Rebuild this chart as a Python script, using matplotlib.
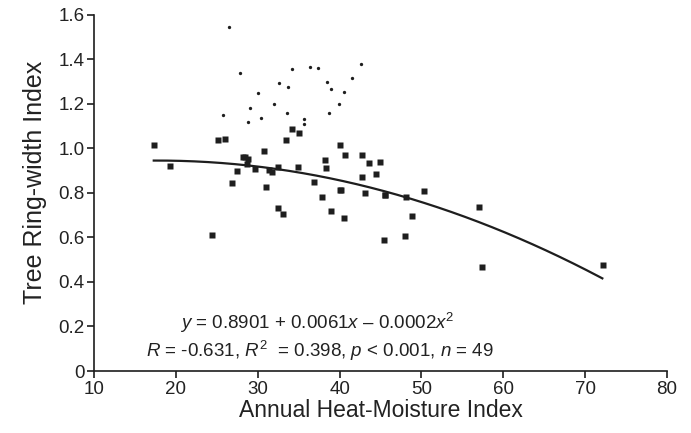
import numpy as np
import matplotlib
matplotlib.use('Agg')
import matplotlib.pyplot as plt

plt.rcParams['font.family'] = ['Liberation Sans', 'DejaVu Sans']
plt.rcParams['mathtext.fontset'] = 'custom'
plt.rcParams['mathtext.rm'] = 'Liberation Sans'
plt.rcParams['mathtext.it'] = 'Liberation Sans:italic'

# 方块: 回归用的 49 个样点
sq_x = [17.3, 19.3, 24.45, 25.1, 26.0, 26.8, 27.43, 28.2, 28.85, 28.65, 28.5,
        29.67, 30.8, 31.0, 31.4, 31.8, 32.5, 32.5, 33.1, 33.45, 34.2, 35.0,
        34.9, 36.85, 37.9, 38.2, 38.4, 38.9, 40.1, 40.1, 40.2, 40.5, 40.66,
        42.74, 42.74, 43.15, 43.63, 44.5, 44.94, 45.4, 45.5, 45.6, 48.0,
        48.1, 48.9, 50.35, 57.07, 57.36, 72.14]
sq_y = [1.016, 0.919, 0.61, 1.038, 1.042, 0.843, 0.9, 0.96, 0.954, 0.93, 0.962,
        0.907, 0.987, 0.828, 0.901, 0.895, 0.918, 0.734, 0.707, 1.038, 1.085, 1.07,
        0.918, 0.847, 0.78, 0.946, 0.913, 0.718, 1.016, 0.813, 0.815, 0.689, 0.968,
        0.972, 0.87, 0.801, 0.932, 0.883, 0.939, 0.589, 0.792, 0.79, 0.605,
        0.782, 0.697, 0.808, 0.738, 0.467, 0.477]

# 小圆点
dot_x = [26.5, 27.8, 34.15, 36.35, 37.4, 42.6, 32.6, 33.7, 30.0, 38.5, 39.0,
         41.55, 40.5, 29.05, 32.0, 39.97, 25.7, 30.4, 33.6, 38.65, 28.8, 35.6, 35.7]
dot_y = [1.545, 1.338, 1.355, 1.367, 1.36, 1.38, 1.292, 1.275, 1.25, 1.296, 1.267,
         1.316, 1.253, 1.183, 1.2, 1.2, 1.15, 1.135, 1.16, 1.159, 1.12, 1.13, 1.108]

# 拟合曲线系数 (从图上曲线读出), 以及曲线范围
fit_coef = [-0.000179, 0.00635, 0.8887]
fit_range = [17.3, 72.1]

x_ticks = [10, 20, 30, 40, 50, 60, 70, 80]
y_ticks = [0, 0.2, 0.4, 0.6, 0.8, 1.0, 1.2, 1.4, 1.6]
y_tick_labels = ['0', '0.2', '0.4', '0.6', '0.8', '1.0', '1.2', '1.4', '1.6']

ink = '#1e1e1e'
txt = '#222222'

fig = plt.figure(figsize=(6.91, 4.33), dpi=100)
ax = fig.add_axes([94 / 691, 62 / 433, 573 / 691, 356.3 / 433])

ax.plot(dot_x, dot_y, 'o', ms=2.4, color=ink, mec='none', clip_on=False)
ax.plot(sq_x, sq_y, 's', ms=4.8, color=ink, mec='none', clip_on=False)

xf = np.linspace(fit_range[0], fit_range[1], 200)
ax.plot(xf, np.polyval(fit_coef, xf), color=ink, lw=1.6)

ax.set_xlim(10, 80)
ax.set_ylim(0, 1.6)
ax.set_xticks(x_ticks)
ax.set_yticks(y_ticks)
ax.set_yticklabels(y_tick_labels)

for s in ['top', 'right']:
    ax.spines[s].set_visible(False)
for s in ['left', 'bottom']:
    ax.spines[s].set_linewidth(1.2)
    ax.spines[s].set_color(ink)
ax.tick_params(direction='out', length=5, width=1.2, colors=ink,
               labelsize=13.5, labelcolor=txt, pad=2)

ax.set_xlabel('Annual Heat-Moisture Index', fontsize=16.5, color=txt, labelpad=1)
ax.set_ylabel('Tree Ring-width Index', fontsize=18, color=txt)
ax.yaxis.set_label_coords(-0.082, 0.53)

ax.text(20.5, 0.216, r'$y$ = 0.8901 + 0.0061$x$ – 0.0002$x^2$',
        fontsize=13.5, color=txt, va='center', ha='left')
ax.text(16.4, 0.09, r'$R$ = -0.631, $R^2$  = 0.398, $p$ < 0.001, $n$ = 49',
        fontsize=13.5, color=txt, va='center', ha='left')

fig.savefig('out.png', dpi=100, facecolor='white')
